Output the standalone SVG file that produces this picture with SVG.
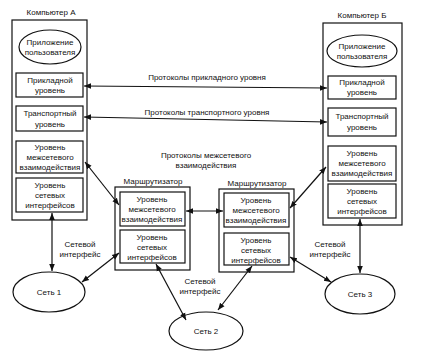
<svg xmlns="http://www.w3.org/2000/svg" width="423" height="356" viewBox="0 0 423 356">
<style>
.b{fill:#fff;stroke:#111;stroke-width:1.2}
.t{font-family:"Liberation Sans",Arial,sans-serif;font-size:8px;fill:#111;text-anchor:middle}
.c{stroke:#111;stroke-width:1.2;fill:none;marker-start:url(#ah);marker-end:url(#ah)}
</style>
<defs>
<marker id="ah" viewBox="0 0 10 10" refX="10" refY="5" markerWidth="7" markerHeight="7" markerUnits="userSpaceOnUse" orient="auto-start-reverse">
<path d="M0,1 L10,5 L0,9 z" fill="#111"/>
</marker>
</defs>
<rect width="423" height="356" fill="#fff"/>

<g id="compA">
<text class="t" x="51" y="15">Компьютер А</text>
<rect class="b" x="12" y="20" width="75" height="200"/>
<ellipse class="b" cx="50" cy="47" rx="31" ry="17"/>
<text class="t" x="50" y="45">Приложение</text>
<text class="t" x="50" y="55">пользователя</text>
<rect class="b" x="16" y="73" width="67" height="24"/>
<text class="t" x="50" y="83">Прикладной</text>
<text class="t" x="50" y="93">уровень</text>
<rect class="b" x="16" y="106" width="67" height="25"/>
<text class="t" x="50" y="116">Транспортный</text>
<text class="t" x="50" y="127">уровень</text>
<rect class="b" x="16" y="141" width="67" height="32"/>
<text class="t" x="50" y="150">Уровень</text>
<text class="t" x="50" y="160">межсетевого</text>
<text class="t" x="50" y="170">взаимодействия</text>
<rect class="b" x="16" y="178" width="67" height="34"/>
<text class="t" x="50" y="188">Уровень</text>
<text class="t" x="50" y="198">сетевых</text>
<text class="t" x="50" y="208">интерфейсов</text>
</g>

<g id="compB">
<text class="t" x="362" y="18">Компьютер Б</text>
<rect class="b" x="323" y="23" width="79" height="202"/>
<ellipse class="b" cx="362" cy="51" rx="35" ry="16"/>
<text class="t" x="362" y="49">Приложение</text>
<text class="t" x="362" y="59">пользователя</text>
<rect class="b" x="328" y="76" width="68" height="23"/>
<text class="t" x="362" y="85">Прикладной</text>
<text class="t" x="362" y="95">уровень</text>
<rect class="b" x="328" y="108" width="68" height="28"/>
<text class="t" x="362" y="119">Транспортный</text>
<text class="t" x="362" y="130">уровень</text>
<rect class="b" x="328" y="146" width="68" height="35"/>
<text class="t" x="362" y="156">Уровень</text>
<text class="t" x="362" y="166">межсетевого</text>
<text class="t" x="362" y="176">взаимодействия</text>
<rect class="b" x="328" y="184" width="68" height="34"/>
<text class="t" x="362" y="194">Уровень</text>
<text class="t" x="362" y="204">сетевых</text>
<text class="t" x="362" y="214">интерфейсов</text>
</g>

<g id="router1">
<text class="t" x="153" y="184">Маршрутизатор</text>
<rect class="b" x="115" y="187" width="75" height="83"/>
<rect class="b" x="120" y="192" width="65" height="34"/>
<text class="t" x="152" y="202">Уровень</text>
<text class="t" x="152" y="212">межсетевого</text>
<text class="t" x="152" y="222">взаимодействия</text>
<rect class="b" x="120" y="230" width="65" height="33"/>
<text class="t" x="152" y="240">Уровень</text>
<text class="t" x="152" y="250">сетевых</text>
<text class="t" x="152" y="260">интерфейсов</text>
</g>

<g id="router2">
<text class="t" x="257" y="186">Маршрутизатор</text>
<rect class="b" x="219" y="189" width="75" height="83"/>
<rect class="b" x="224" y="193" width="65" height="34"/>
<text class="t" x="256" y="203">Уровень</text>
<text class="t" x="256" y="213">межсетевого</text>
<text class="t" x="256" y="223">взаимодействия</text>
<rect class="b" x="224" y="233" width="65" height="32"/>
<text class="t" x="256" y="243">Уровень</text>
<text class="t" x="256" y="253">сетевых</text>
<text class="t" x="256" y="263">интерфейсов</text>
</g>

<g id="net1">
<ellipse class="b" cx="49" cy="292" rx="36" ry="20"/>
<text class="t" x="49" y="295">Сеть 1</text>
</g>
<g id="net2">
<ellipse class="b" cx="206" cy="331" rx="37" ry="19"/>
<text class="t" x="206" y="334">Сеть 2</text>
</g>
<g id="net3">
<ellipse class="b" cx="360" cy="294" rx="35" ry="20"/>
<text class="t" x="360" y="297">Сеть 3</text>
</g>

<g id="connectors">
<line class="c" x1="84" y1="86" x2="327" y2="88"/>
<text class="t" x="207" y="80">Протоколы прикладного уровня</text>
<line class="c" x1="84" y1="117" x2="327" y2="122"/>
<text class="t" x="207" y="115">Протоколы транспортного уровня</text>
<text class="t" x="206" y="158">Протоколы межсетевого</text>
<text class="t" x="206" y="168">взаимодействия</text>
<line class="c" x1="85" y1="162" x2="119" y2="205"/>
<line class="c" x1="326" y1="167" x2="290" y2="208"/>
<line class="c" x1="186" y1="211" x2="223" y2="211"/>
<line class="c" x1="52" y1="213" x2="52" y2="271"/>
<line class="c" x1="119" y1="253" x2="82" y2="282"/>
<line class="c" x1="156" y1="264" x2="186" y2="320"/>
<line class="c" x1="252" y1="266" x2="218" y2="310"/>
<line class="c" x1="290" y1="257" x2="331" y2="282"/>
<line class="c" x1="360" y1="219" x2="360" y2="273"/>
<text class="t" x="80" y="247">Сетевой</text>
<text class="t" x="80" y="257">интерфейс</text>
<text class="t" x="200" y="284">Сетевой</text>
<text class="t" x="200" y="294">интерфейс</text>
<text class="t" x="330" y="247">Сетевой</text>
<text class="t" x="330" y="257">интерфейс</text>
</g>
</svg>
